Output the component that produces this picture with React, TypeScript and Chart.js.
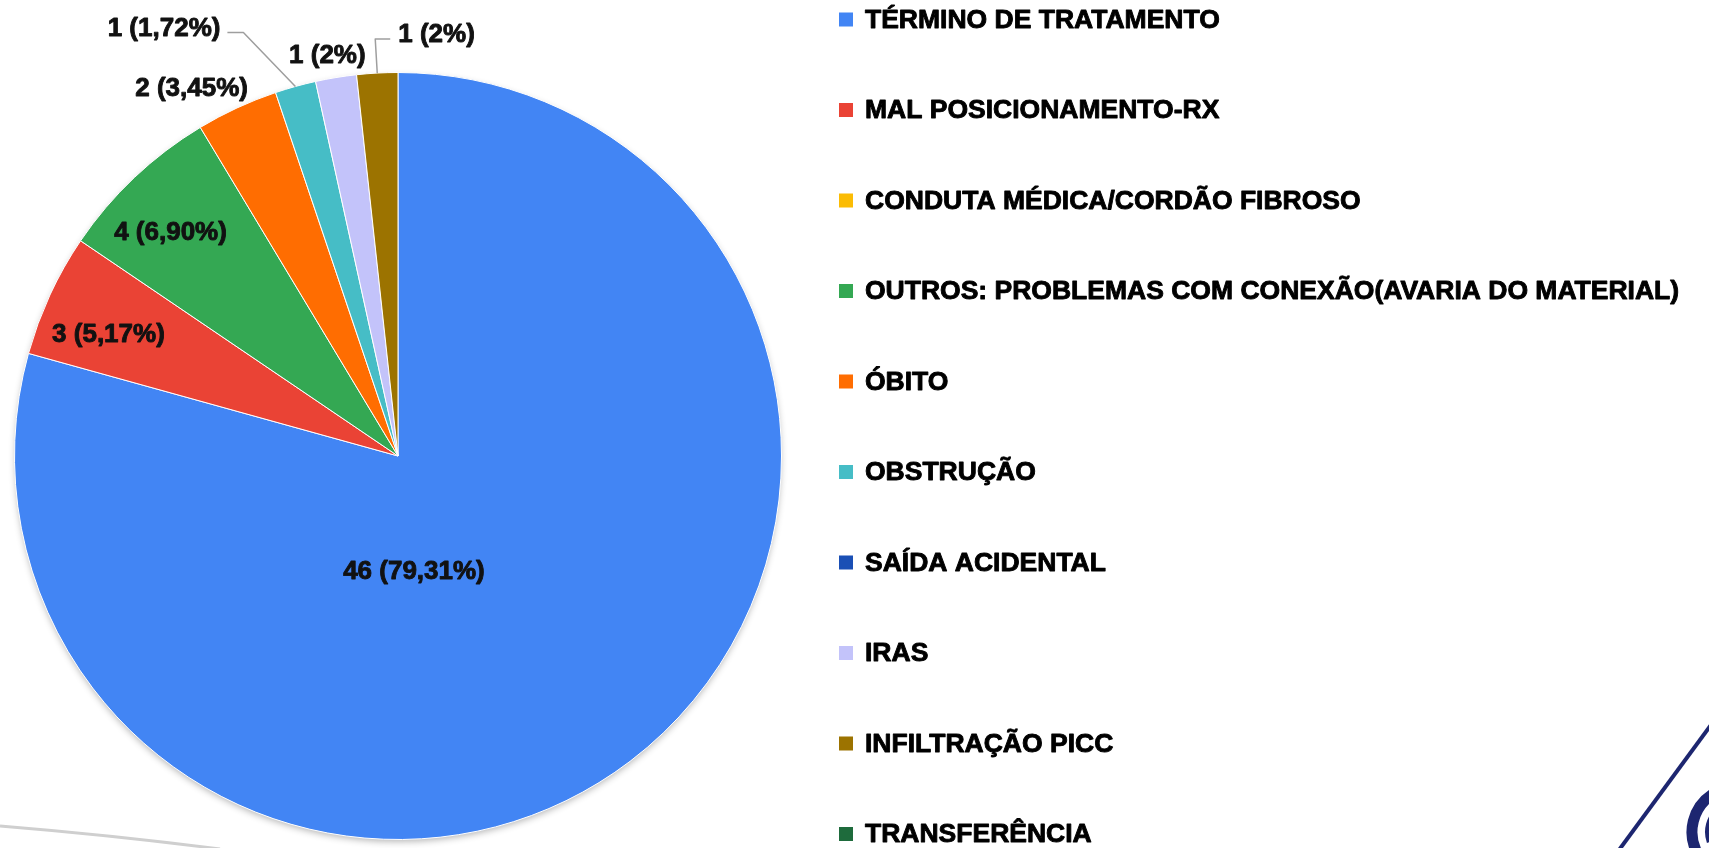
import React, { useEffect, useRef } from "react";
import { Chart, registerables } from "chart.js";

Chart.register(...registerables);

const categories = [
  "TÉRMINO DE TRATAMENTO",
  "MAL POSICIONAMENTO-RX",
  "CONDUTA MÉDICA/CORDÃO FIBROSO",
  "OUTROS: PROBLEMAS COM CONEXÃO(AVARIA DO MATERIAL)",
  "ÓBITO",
  "OBSTRUÇÃO",
  "SAÍDA ACIDENTAL",
  "IRAS",
  "INFILTRAÇÃO PICC",
  "TRANSFERÊNCIA",
];
const counts = [46, 3, 0, 4, 2, 1, 0, 1, 1, 0];
const sliceLabels = [
  "46 (79,31%)",
  "3 (5,17%)",
  "",
  "4 (6,90%)",
  "2 (3,45%)",
  "1 (1,72%)",
  "",
  "1 (2%)",
  "1 (2%)",
  "",
];
const colors = [
  "#4285F4",
  "#EA4335",
  "#FBBC04",
  "#34A853",
  "#FF6D01",
  "#46BDC6",
  "#1A4FB5",
  "#C3C3FA",
  "#9C7300",
  "#1E6B3C",
];

// label placement styles: polar (radius factor, angle delta in degrees) or leader (pixel offsets from slice edge)
type Place =
  | { kind: "polar"; r: number; da: number }
  | { kind: "leader"; dx: number; dy: number; hx: number }
  | null;
const placements: Place[] = [
  { kind: "polar", r: 0.305, da: 29.4 },
  { kind: "polar", r: 0.818, da: -2.2 },
  null,
  { kind: "polar", r: 0.831, da: -2.1 },
  { kind: "polar", r: 1.099, da: -4.5 },
  { kind: "leader", dx: -52, dy: -54, hx: -16 },
  null,
  { kind: "polar", r: 1.06, da: -0.7 },
  { kind: "leader", dx: -2, dy: -34, hx: 15 },
  null,
];

const FONT = "'Liberation Sans', Arial, sans-serif";

function heavyText(ctx: CanvasRenderingContext2D, s: string, x: number, y: number, color: string) {
  ctx.fillStyle = color;
  ctx.strokeStyle = color;
  ctx.lineWidth = 0.9;
  ctx.lineJoin = "round";
  ctx.strokeText(s, x, y);
  ctx.fillText(s, x, y);
}

const decorPlugin = {
  id: "decor",
  beforeDraw(chart: any) {
    const ctx = chart.ctx;
    ctx.save();
    ctx.fillStyle = "#ffffff";
    ctx.fillRect(0, 0, chart.width, chart.height);
    // faint slide line bottom-left
    ctx.strokeStyle = "#cfcfcf";
    ctx.lineWidth = 3;
    ctx.beginPath();
    ctx.moveTo(0, 826);
    ctx.quadraticCurveTo(110, 835, 220, 849);
    ctx.stroke();
    // logo fragment bottom-right
    ctx.strokeStyle = "#1d2670";
    ctx.lineWidth = 4;
    ctx.beginPath();
    ctx.moveTo(1711, 725);
    ctx.lineTo(1619, 850);
    ctx.stroke();
    ctx.lineWidth = 11;
    ctx.beginPath();
    ctx.arc(1737, 832, 45, (150 * Math.PI) / 180, (238 * Math.PI) / 180);
    ctx.stroke();
    ctx.lineWidth = 4;
    ctx.beginPath();
    ctx.arc(1737, 832, 30, (160 * Math.PI) / 180, (230 * Math.PI) / 180);
    ctx.stroke();
    ctx.restore();
  },
  beforeDatasetsDraw(chart: any) {
    const meta = chart.getDatasetMeta(0);
    const arc = meta.data[0];
    if (!arc) return;
    const { x, y, outerRadius } = arc.getProps(["x", "y", "outerRadius"], true);
    const ctx = chart.ctx;
    ctx.save();
    ctx.shadowColor = "rgba(0,0,0,0.3)";
    ctx.shadowBlur = 7;
    ctx.shadowOffsetX = 0;
    ctx.shadowOffsetY = 3;
    ctx.fillStyle = "#ffffff";
    ctx.beginPath();
    ctx.arc(x, y, outerRadius - 1, 0, Math.PI * 2);
    ctx.fill();
    ctx.restore();
  },
  afterDatasetsDraw(chart: any) {
    const ctx = chart.ctx;
    const meta = chart.getDatasetMeta(0);
    ctx.save();
    ctx.font = `bold 26px ${FONT}`;
    ctx.textBaseline = "middle";
    meta.data.forEach((arc: any, i: number) => {
      const p = placements[i];
      if (!p || !counts[i]) return;
      const { x, y, startAngle, endAngle, outerRadius } = arc.getProps(
        ["x", "y", "startAngle", "endAngle", "outerRadius"],
        true
      );
      const mid = (startAngle + endAngle) / 2;
      if (p.kind === "polar") {
        const a = mid + (p.da * Math.PI) / 180;
        const r = outerRadius * p.r;
        ctx.textAlign = "center";
        heavyText(ctx, sliceLabels[i], x + Math.cos(a) * r, y + Math.sin(a) * r, "#111111");
      } else {
        const ex = x + Math.cos(mid) * outerRadius;
        const ey = y + Math.sin(mid) * outerRadius;
        const bx = ex + p.dx;
        const by = ey + p.dy;
        const tx = bx + p.hx;
        ctx.strokeStyle = "#9e9e9e";
        ctx.lineWidth = 1.5;
        ctx.beginPath();
        ctx.moveTo(ex, ey);
        ctx.lineTo(bx, by);
        ctx.lineTo(tx, by);
        ctx.stroke();
        const left = p.hx > 0;
        ctx.textAlign = left ? "left" : "right";
        heavyText(ctx, sliceLabels[i], tx + (left ? 8 : -7), by - 4, "#111111");
      }
    });
    ctx.restore();
  },
  afterDraw(chart: any) {
    const ctx = chart.ctx;
    ctx.save();
    ctx.font = `bold 26.5px ${FONT}`;
    ctx.textBaseline = "middle";
    ctx.textAlign = "left";
    categories.forEach((c, i) => {
      const cy = 19.5 + i * 90.5;
      ctx.fillStyle = colors[i];
      ctx.fillRect(839, cy - 7, 14, 14);
      heavyText(ctx, c, 865, cy + 1, "#000000");
    });
    ctx.restore();
  },
};

export default function App() {
  const ref = useRef<HTMLCanvasElement | null>(null);
  useEffect(() => {
    if (!ref.current) return;
    const chart = new Chart(ref.current, {
      type: "pie",
      data: {
        labels: categories,
        datasets: [
          {
            data: counts,
            backgroundColor: colors,
            borderColor: "#ffffff",
            borderWidth: 1,
          },
        ],
      },
      options: {
        responsive: false,
        animation: false,
        layout: { padding: { left: 14, right: 927, top: 72, bottom: 8 } },
        plugins: {
          legend: { display: false },
          tooltip: { enabled: false },
        },
      },
      plugins: [decorPlugin],
    });
    return () => chart.destroy();
  }, []);
  return (
    <div style={{ position: "fixed", left: 0, top: 0, width: 1709, height: 848, background: "#fff" }}>
      <canvas ref={ref} width={1709} height={848} style={{ display: "block" }} />
    </div>
  );
}
